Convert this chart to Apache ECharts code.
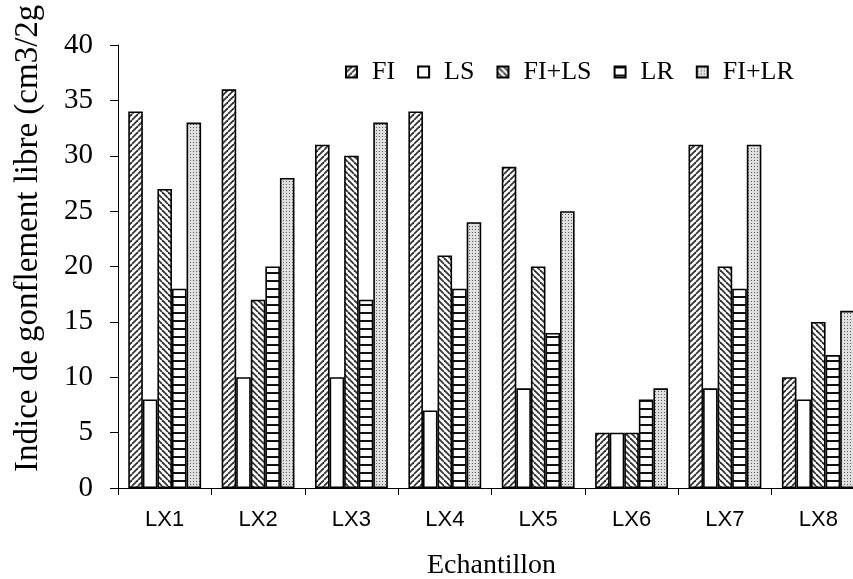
<!DOCTYPE html>
<html>
<head>
<meta charset="utf-8">
<script src="https://cdn.jsdelivr.net/npm/echarts@6/dist/echarts.min.js"></script>
<style>html,body{margin:0;padding:0;background:#fff}#c{width:853px;height:579px}</style>
</head>
<body>
<div id="c"></div>
<script>
var categories = ['LX1','LX2','LX3','LX4','LX5','LX6','LX7','LX8'];
var seriesNames = ['FI','LS','FI+LS','LR','FI+LR'];
var FI     = [34, 36, 31, 34, 29, 5, 31, 10];
var LS     = [8, 10, 10, 7, 9, 5, 9, 8];
var FI_LS  = [27, 17, 30, 21, 20, 5, 20, 15];
var LR     = [18, 20, 17, 18, 14, 8, 18, 12];
var FI_LR  = [33, 28, 33, 24, 25, 9, 31, 16];
var yTicks = [0,5,10,15,20,25,30,35,40];

function tile(w, h, draw) {
  var c = document.createElement('canvas');
  c.width = w; c.height = h;
  var g = c.getContext('2d');
  draw(g, w, h);
  return c;
}
function diag(dir) {
  return tile(6, 6, function (g, w, h) {
    g.fillStyle = '#fff'; g.fillRect(0, 0, w, h);
    g.strokeStyle = '#333'; g.lineWidth = 1.8;
    for (var k = -1; k <= 1; k++) {
      g.beginPath();
      if (dir > 0) { g.moveTo(k * w, h); g.lineTo(k * w + w, 0); }
      else { g.moveTo(k * w, 0); g.lineTo(k * w + w, h); }
      g.stroke();
    }
  });
}
var patFI = diag(1);
var patFILS = diag(-1);
var patLR = tile(4, 8, function (g, w, h) {
  g.fillStyle = '#fff'; g.fillRect(0, 0, w, h);
  g.fillStyle = '#111'; g.fillRect(0, 0, w, 2);
});
var patFILR = tile(3, 3, function (g, w, h) {
  g.fillStyle = '#e0e0e0'; g.fillRect(0, 0, w, h);
  g.fillStyle = '#5a5a5a'; g.fillRect(1, 1, 1, 1);
});

var fills = [
  {image: patFI, repeat: 'repeat'},
  '#ffffff',
  {image: patFILS, repeat: 'repeat'},
  {image: patLR, repeat: 'repeat'},
  {image: patFILR, repeat: 'repeat'}
];
var datasets = [FI, LS, FI_LS, LR, FI_LR];

var chart = echarts.init(document.getElementById('c'), null, {renderer: 'canvas'});
chart.setOption({
  animation: false,
  backgroundColor: '#fff',
  grid: {left: 118, top: 45, width: 747, height: 443, outerBoundsMode: 'none', containLabel: false},
  legend: {
    left: 340, top: 54,
    itemWidth: 11, itemHeight: 11, itemGap: 22,
    icon: 'rect',
    textStyle: {fontFamily: 'Liberation Serif', fontSize: 26, color: '#000', padding: [0,0,0,10]},
    data: seriesNames
  },
  xAxis: {
    type: 'category',
    data: categories,
    name: 'Echantillon',
    nameLocation: 'middle',
    nameGap: 64,
    nameTextStyle: {fontFamily: 'Liberation Serif', fontSize: 28, color: '#000'},
    axisLine: {lineStyle: {color: '#000', width: 1}},
    axisTick: {show: true, length: 7, lineStyle: {color: '#000'}},
    axisLabel: {fontFamily: 'Liberation Sans', fontSize: 22, color: '#000', margin: 21}
  },
  yAxis: {
    type: 'value',
    min: yTicks[0], max: yTicks[yTicks.length - 1], interval: 5,
    axisLine: {show: true, lineStyle: {color: '#000', width: 1}},
    axisTick: {show: true, length: 8, lineStyle: {color: '#000'}},
    splitLine: {show: false},
    axisLabel: {fontFamily: 'Liberation Serif', fontSize: 29, color: '#000', margin: 25}
  },
  graphic: [{
    type: 'text',
    x: 28, y: 472,
    rotation: Math.PI / 2,
    style: {
      text: 'Indice de gonflement libre (cm3/2g',
      fontFamily: 'Liberation Serif', fontSize: 33, fill: '#000',
      textAlign: 'left', textVerticalAlign: 'middle'
    }
  }],
  series: seriesNames.map(function (n, i) {
    return {
      name: n,
      type: 'bar',
      data: datasets[i],
      barGap: '0%',
      barCategoryGap: '22%',
      itemStyle: {color: fills[i], borderColor: '#000', borderWidth: 1.6}
    };
  })
});
</script>
</body>
</html>
